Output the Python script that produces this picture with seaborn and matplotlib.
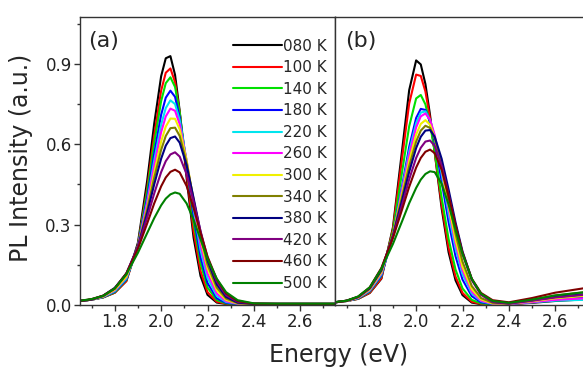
import numpy as np
import pandas as pd
import seaborn as sns
import matplotlib
matplotlib.use("Agg")
import matplotlib.pyplot as plt
from matplotlib.ticker import MultipleLocator

# energy grid (eV) and temperatures
energy = [1.65, 1.70, 1.75, 1.80, 1.85, 1.90, 1.94, 1.97, 2.00, 2.02, 2.04, 2.06,
          2.08, 2.11, 2.14, 2.17, 2.20, 2.24, 2.28, 2.33, 2.40, 2.50, 2.60, 2.75]
temps = ["080 K", "100 K", "140 K", "180 K", "220 K", "260 K",
         "300 K", "340 K", "380 K", "420 K", "460 K", "500 K"]
colors = ["#000000", "#ff0000", "#00e000", "#0000ff", "#00e5ee", "#ff00ff",
          "#f0f000", "#808000", "#000080", "#800080", "#800000", "#008000"]

# panel (a)
a080 = [0.015, 0.020, 0.028, 0.046, 0.090, 0.233, 0.465, 0.676, 0.854, 0.921, 0.929, 0.859, 0.725, 0.473, 0.251, 0.108, 0.038, 0.009, 0.004, 0.004, 0.004, 0.004, 0.004, 0.004]
a100 = [0.015, 0.020, 0.029, 0.046, 0.089, 0.224, 0.437, 0.632, 0.800, 0.867, 0.883, 0.832, 0.718, 0.490, 0.275, 0.127, 0.048, 0.012, 0.005, 0.004, 0.004, 0.004, 0.004, 0.004]
a140 = [0.015, 0.020, 0.029, 0.048, 0.094, 0.224, 0.423, 0.604, 0.761, 0.828, 0.850, 0.814, 0.719, 0.516, 0.309, 0.155, 0.065, 0.018, 0.006, 0.004, 0.004, 0.004, 0.004, 0.004]
a180 = [0.015, 0.020, 0.030, 0.050, 0.096, 0.220, 0.402, 0.565, 0.710, 0.774, 0.800, 0.777, 0.701, 0.525, 0.333, 0.179, 0.082, 0.025, 0.008, 0.004, 0.004, 0.004, 0.004, 0.004]
a220 = [0.015, 0.020, 0.030, 0.052, 0.099, 0.218, 0.387, 0.538, 0.673, 0.735, 0.764, 0.750, 0.690, 0.536, 0.357, 0.205, 0.101, 0.034, 0.011, 0.005, 0.004, 0.004, 0.004, 0.004]
a260 = [0.015, 0.020, 0.031, 0.055, 0.104, 0.220, 0.380, 0.520, 0.645, 0.704, 0.733, 0.725, 0.675, 0.539, 0.374, 0.225, 0.118, 0.043, 0.014, 0.005, 0.004, 0.004, 0.004, 0.004]
a300 = [0.015, 0.020, 0.032, 0.057, 0.106, 0.216, 0.364, 0.493, 0.610, 0.666, 0.696, 0.695, 0.656, 0.539, 0.389, 0.246, 0.137, 0.055, 0.019, 0.006, 0.004, 0.004, 0.004, 0.004]
a340 = [0.015, 0.020, 0.034, 0.061, 0.113, 0.220, 0.357, 0.474, 0.579, 0.631, 0.660, 0.662, 0.631, 0.530, 0.394, 0.260, 0.151, 0.065, 0.024, 0.007, 0.004, 0.004, 0.004, 0.004]
a380 = [0.015, 0.020, 0.035, 0.064, 0.117, 0.218, 0.344, 0.450, 0.546, 0.595, 0.623, 0.629, 0.606, 0.521, 0.399, 0.273, 0.167, 0.077, 0.030, 0.009, 0.004, 0.004, 0.004, 0.004]
a420 = [0.015, 0.021, 0.034, 0.062, 0.118, 0.218, 0.327, 0.416, 0.496, 0.537, 0.562, 0.570, 0.554, 0.488, 0.386, 0.276, 0.178, 0.088, 0.037, 0.012, 0.005, 0.004, 0.004, 0.004]
a460 = [0.015, 0.022, 0.035, 0.062, 0.118, 0.210, 0.305, 0.379, 0.443, 0.476, 0.497, 0.505, 0.495, 0.444, 0.362, 0.269, 0.181, 0.096, 0.043, 0.015, 0.005, 0.004, 0.004, 0.004]
a500 = [0.016, 0.022, 0.034, 0.062, 0.115, 0.195, 0.269, 0.324, 0.372, 0.397, 0.413, 0.420, 0.415, 0.379, 0.318, 0.245, 0.173, 0.098, 0.048, 0.018, 0.006, 0.005, 0.005, 0.005]

# panel (b)
b080 = [0.010, 0.015, 0.023, 0.045, 0.098, 0.290, 0.582, 0.802, 0.913, 0.898, 0.825, 0.709, 0.570, 0.361, 0.197, 0.092, 0.037, 0.009, 0.003, 0.002, 0.003, 0.008, 0.015, 0.022]
b100 = [0.010, 0.015, 0.023, 0.046, 0.100, 0.283, 0.552, 0.752, 0.860, 0.855, 0.797, 0.696, 0.571, 0.376, 0.214, 0.106, 0.045, 0.012, 0.004, 0.003, 0.003, 0.010, 0.020, 0.030]
b140 = [0.010, 0.015, 0.024, 0.050, 0.108, 0.275, 0.500, 0.667, 0.771, 0.784, 0.749, 0.675, 0.573, 0.401, 0.246, 0.132, 0.062, 0.019, 0.006, 0.003, 0.004, 0.012, 0.022, 0.032]
b180 = [0.010, 0.015, 0.025, 0.052, 0.110, 0.258, 0.446, 0.590, 0.698, 0.732, 0.728, 0.685, 0.610, 0.462, 0.309, 0.182, 0.095, 0.033, 0.010, 0.004, 0.004, 0.012, 0.020, 0.028]
b220 = [0.010, 0.015, 0.026, 0.054, 0.114, 0.258, 0.436, 0.573, 0.679, 0.718, 0.723, 0.691, 0.627, 0.490, 0.340, 0.210, 0.115, 0.043, 0.014, 0.004, 0.004, 0.010, 0.016, 0.020]
b260 = [0.010, 0.015, 0.027, 0.056, 0.118, 0.260, 0.430, 0.559, 0.663, 0.704, 0.715, 0.691, 0.635, 0.507, 0.360, 0.228, 0.129, 0.050, 0.016, 0.005, 0.004, 0.011, 0.019, 0.026]
b300 = [0.010, 0.015, 0.028, 0.058, 0.122, 0.262, 0.418, 0.538, 0.636, 0.676, 0.690, 0.673, 0.625, 0.510, 0.372, 0.243, 0.142, 0.059, 0.021, 0.006, 0.005, 0.014, 0.025, 0.036]
b340 = [0.010, 0.016, 0.030, 0.062, 0.128, 0.262, 0.407, 0.518, 0.610, 0.651, 0.669, 0.661, 0.623, 0.522, 0.393, 0.266, 0.162, 0.071, 0.026, 0.008, 0.006, 0.020, 0.035, 0.050]
b380 = [0.010, 0.016, 0.030, 0.062, 0.130, 0.258, 0.393, 0.497, 0.586, 0.628, 0.651, 0.653, 0.628, 0.546, 0.431, 0.308, 0.200, 0.097, 0.040, 0.012, 0.006, 0.017, 0.030, 0.042]
b420 = [0.010, 0.016, 0.030, 0.064, 0.135, 0.255, 0.376, 0.469, 0.549, 0.587, 0.610, 0.614, 0.594, 0.520, 0.412, 0.296, 0.192, 0.093, 0.038, 0.011, 0.005, 0.016, 0.028, 0.040]
b460 = [0.010, 0.016, 0.031, 0.066, 0.138, 0.250, 0.358, 0.441, 0.513, 0.549, 0.572, 0.580, 0.567, 0.505, 0.407, 0.297, 0.196, 0.098, 0.045, 0.018, 0.010, 0.026, 0.046, 0.066]
b500 = [0.011, 0.016, 0.032, 0.066, 0.135, 0.228, 0.314, 0.380, 0.437, 0.468, 0.489, 0.499, 0.496, 0.453, 0.375, 0.281, 0.191, 0.097, 0.042, 0.015, 0.008, 0.020, 0.036, 0.050]

series_a = [a080, a100, a140, a180, a220, a260, a300, a340, a380, a420, a460, a500]
series_b = [b080, b100, b140, b180, b220, b260, b300, b340, b380, b420, b460, b500]


def to_frame(series):
    rows = []
    for t, vals in zip(temps, series):
        for e, v in zip(energy, vals):
            rows.append({"E": e, "I": v, "T": t})
    return pd.DataFrame(rows)


sns.set_style("ticks")
plt.rcParams["font.family"] = ["DejaVu Sans"]
plt.rcParams["axes.linewidth"] = 1.0
plt.rcParams["axes.edgecolor"] = "#333333"

fig = plt.figure(figsize=(5.83, 3.69), dpi=100)
ax1 = fig.add_axes([80 / 583, 64 / 369, 255 / 583, 288 / 369])
ax2 = fig.add_axes([335 / 583, 64 / 369, 255 / 583, 288 / 369])

for ax, series in [(ax1, series_a), (ax2, series_b)]:
    sns.lineplot(data=to_frame(series), x="E", y="I", hue="T", palette=colors,
                 sort=False, estimator=None, lw=1.5, legend=False, ax=ax)
    for ln in ax.get_lines():
        ln.set_solid_joinstyle("round")
    ax.set_xlim(1.65, 2.75)
    ax.set_ylim(0, 1.075)
    ax.xaxis.set_major_locator(MultipleLocator(0.2))
    ax.xaxis.set_minor_locator(MultipleLocator(0.1))
    ax.yaxis.set_major_locator(MultipleLocator(0.3))
    ax.yaxis.set_minor_locator(MultipleLocator(0.15))
    ax.tick_params(which="major", direction="out", length=4, width=1, labelsize=12,
                   colors="#333333", labelcolor="#222222", pad=2)
    ax.tick_params(which="minor", direction="out", length=2.5, width=1, colors="#333333")
    ax.set_xlabel("")
    ax.set_ylabel("")
    for s in ax.spines.values():
        s.set_visible(True)

ax2.tick_params(axis="y", which="both", left=False, labelleft=False)

ax1.legend(handles=ax1.get_lines()[:12], labels=temps, loc="upper left",
           bbox_to_anchor=(0.6, 0.925), frameon=False, fontsize=11,
           handlelength=3.2, handletextpad=0.1, labelspacing=0.43,
           borderpad=0, borderaxespad=0)

ax1.text(0.03, 0.915, "(a)", transform=ax1.transAxes, fontsize=16, va="center", ha="left")
ax2.text(0.04, 0.915, "(b)", transform=ax2.transAxes, fontsize=16, va="center", ha="left")

fig.text(339 / 583, 1 - 355 / 369, "Energy (eV)", fontsize=17, ha="center", va="center")
fig.text(21 / 583, 1 - 158 / 369, "PL Intensity (a.u.)", fontsize=17,
         rotation=90, ha="center", va="center")

fig.savefig("out.png", dpi=100)
